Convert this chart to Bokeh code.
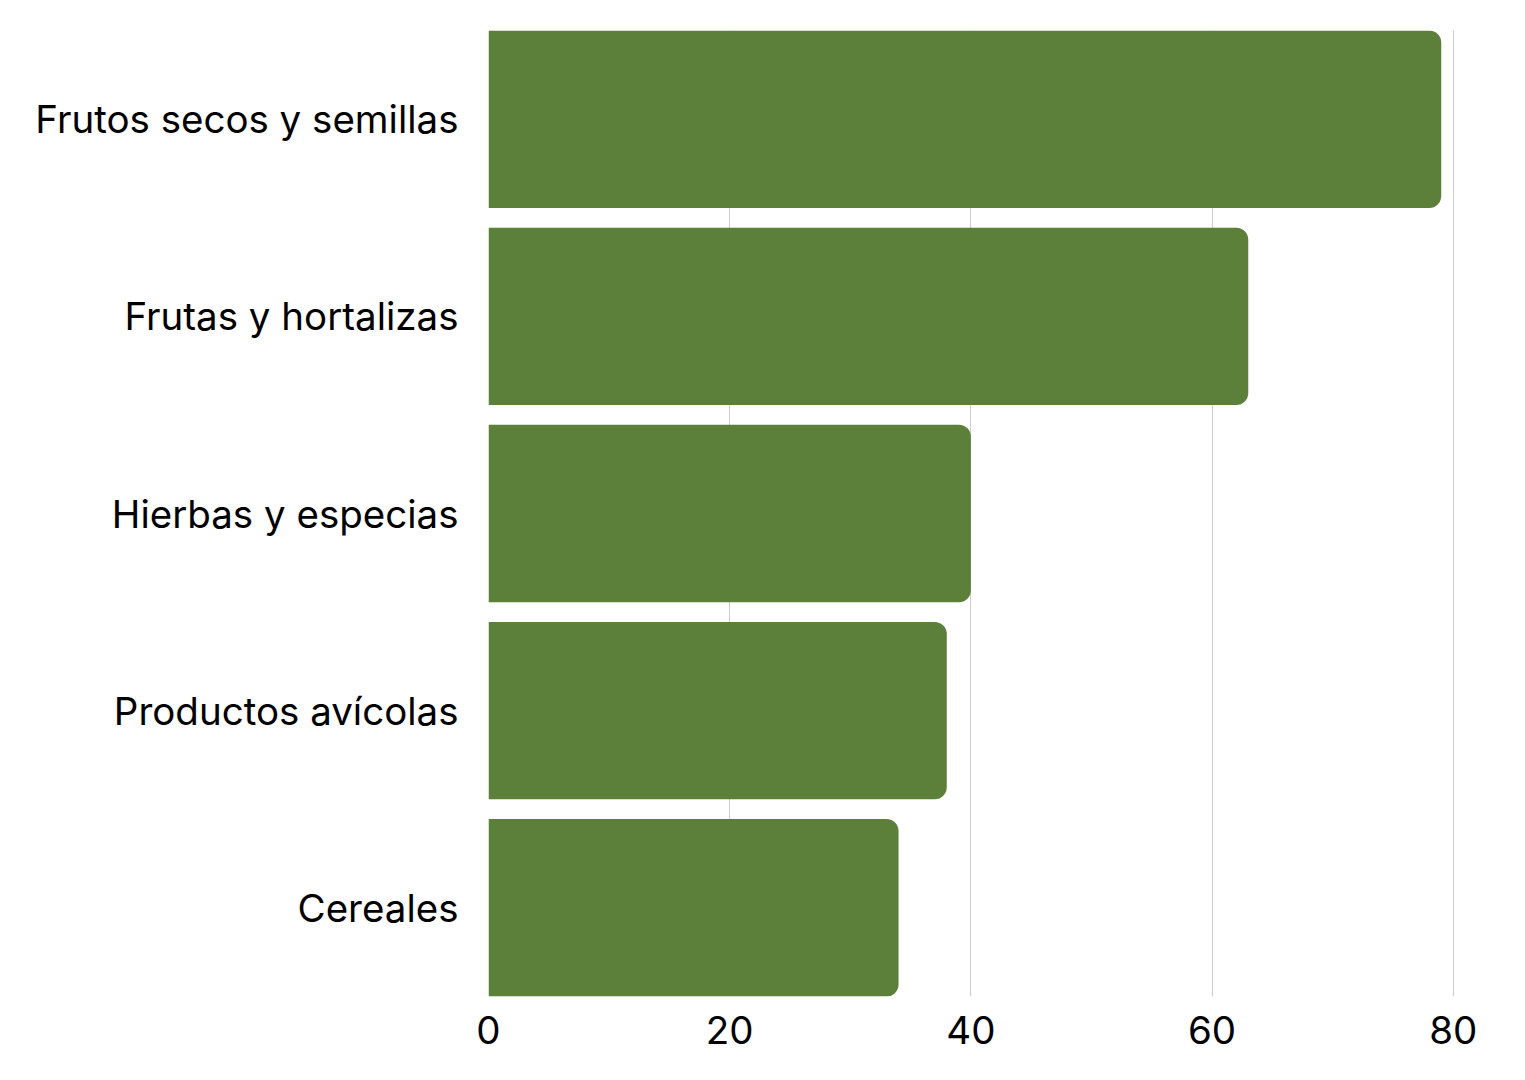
from bokeh.plotting import figure
from bokeh.models import FactorRange, Range1d, FixedTicker
from bokeh.embed import file_html
from bokeh.resources import INLINE

categories = ["Frutos secos y semillas", "Frutas y hortalizas", "Hierbas y especias",
              "Productos avícolas", "Cereales"]
values = [79, 63, 40, 38, 34]
x_ticks = [0, 20, 40, 60, 80]

FONT = "Inter"
BAR_COLOR = "#5c8039"

p = figure(
    y_range=FactorRange(factors=categories[::-1], range_padding=-0.02),
    x_range=Range1d(0, 80.1),
    frame_width=966, frame_height=966,
    min_border_left=488, min_border_top=30, min_border_right=40, min_border_bottom=55,
    output_backend="svg", toolbar_location=None,
)

p.hbar(y=categories, right=values, left=0, height=0.9, color=BAR_COLOR,
       line_color=None, border_radius=(0, 12, 12, 0))

p.outline_line_color = None
p.background_fill_color = "white"
p.border_fill_color = "white"

p.ygrid.grid_line_color = None
p.xgrid.grid_line_color = "#cccccc"
p.xgrid.grid_line_width = 1
p.xgrid.ticker = FixedTicker(ticks=x_ticks)
p.xgrid.level = "underlay"

p.xaxis.ticker = FixedTicker(ticks=x_ticks)
for ax in (p.xaxis[0], p.yaxis[0]):
    ax.axis_line_color = None
    ax.major_tick_line_color = None
    ax.minor_tick_line_color = None
    ax.major_tick_out = 0
    ax.major_tick_in = 0
    ax.major_label_text_font = FONT
    ax.major_label_text_font_size = "38.5px"
    ax.major_label_text_color = "#000000"
p.yaxis.major_label_standoff = 30
p.xaxis.major_label_standoff = 19

open("out.html", "w").write(file_html(p, INLINE))
